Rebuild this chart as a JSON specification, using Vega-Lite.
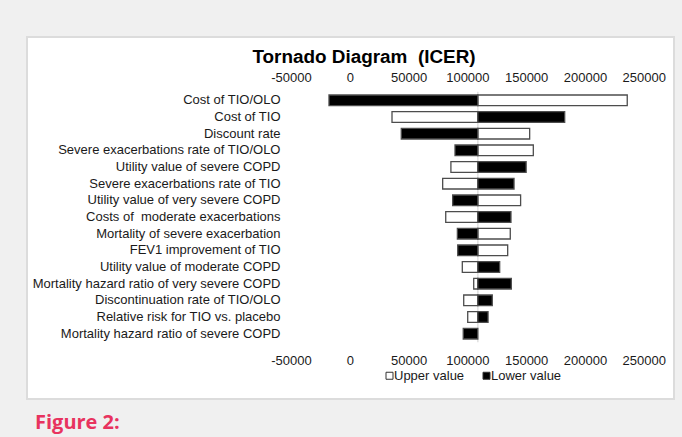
{
  "$schema": "https://vega.github.io/schema/vega-lite/v6.json",
  "width": 647,
  "height": 362,
  "autosize": "none",
  "padding": {"left": 27, "top": 37, "right": 8, "bottom": 38},
  "background": "#f0f0f0",
  "config": {
    "view": {"fill": "#ffffff", "stroke": "#dcdcdc", "strokeWidth": 2},
    "font": "Liberation Sans"
  },
  "title": {
    "text": "Figure 2:",
    "orient": "bottom",
    "anchor": "start",
    "frame": "group",
    "dx": 8,
    "offset": 14,
    "font": "Open Sans",
    "fontSize": 20,
    "fontWeight": "bold",
    "color": "#e8335f"
  },
  "data": {
    "values": [
      {"param": "Cost of TIO/OLO", "Upper value": 236000, "Lower value": -17700},
      {"param": "Cost of TIO", "Upper value": 35900, "Lower value": 182800},
      {"param": "Discount rate\u00a0", "Upper value": 153000, "Lower value": 43800},
      {"param": "Severe exacerbations rate of TIO/OLO", "Upper value": 156100, "Lower value": 89500},
      {"param": "Utility value of severe COPD", "Upper value": 86000, "Lower value": 150000},
      {"param": "Severe exacerbations rate of TIO", "Upper value": 79000, "Lower value": 139700},
      {"param": "Utility value of very severe COPD", "Upper value": 145300, "Lower value": 87500},
      {"param": "Costs of \u00a0moderate exacerbations", "Upper value": 81600, "Lower value": 137100},
      {"param": "Mortality of severe exacerbation", "Upper value": 136500, "Lower value": 91500},
      {"param": "FEV1 improvement of TIO", "Upper value": 134300, "Lower value": 91800},
      {"param": "Utility value of moderate COPD", "Upper value": 95700, "Lower value": 127500},
      {"param": "Mortality hazard ratio of very severe COPD", "Upper value": 105400, "Lower value": 137400},
      {"param": "Discontinuation rate of TIO/OLO", "Upper value": 96900, "Lower value": 121200},
      {"param": "Relative risk for TIO vs. placebo", "Upper value": 100300, "Lower value": 117600},
      {"param": "Mortality hazard ratio of severe COPD", "Upper value": null, "Lower value": 96500}
    ]
  },
  "layer": [
    {
      "mark": {"type": "tick", "color": "#d4d4d4", "thickness": 1.5, "size": 17},
      "encoding": {
        "y": {
          "field": "param", "type": "nominal", "sort": null,
          "scale": {"range": [55, 305], "paddingInner": 0.358, "paddingOuter": 0.179, "align": 0.5},
          "axis": {
            "orient": "left", "offset": -253, "domain": false, "ticks": false, "tickSize": 0,
            "labelPadding": 0, "labelFontSize": 13, "labelFont": "Liberation Sans", "labelColor": "#1a1a1a",
            "labelLimit": 400, "title": null, "grid": false
          }
        },
        "x": {
          "datum": 108900, "type": "quantitative",
          "scale": {"domain": [-274583, 275774], "nice": false, "zero": false},
          "axis": {
            "orient": "bottom", "offset": -45, "values": [-50000, 0, 50000, 100000, 150000, 200000, 250000],
            "labelExpr": "'' + datum.value", "domain": false, "ticks": false, "tickSize": 0, "grid": false,
            "labelPadding": 0, "labelFontSize": 13, "labelFont": "Liberation Sans", "labelColor": "#1a1a1a",
            "title": null, "labelFlush": false, "labelOverlap": false
          }
        }
      }
    },
    {
      "transform": [
        {"fold": ["Upper value", "Lower value"], "as": ["key", "value"]},
        {"filter": "isValid(datum.value)"}
      ],
      "mark": {"type": "bar", "stroke": "#4d4d4d", "strokeWidth": 1.3},
      "encoding": {
        "y": {
          "field": "param", "type": "nominal", "sort": null,
          "scale": {"range": [55, 305], "paddingInner": 0.358, "paddingOuter": 0.179, "align": 0.5},
          "axis": {
            "orient": "left", "offset": -253, "domain": false, "ticks": false, "tickSize": 0,
            "labelPadding": 0, "labelFontSize": 13, "labelFont": "Liberation Sans", "labelColor": "#1a1a1a",
            "labelLimit": 400, "title": null, "grid": false
          }
        },
        "x": {
          "field": "value", "type": "quantitative",
          "scale": {"domain": [-274583, 275774], "nice": false, "zero": false},
          "axis": {
            "orient": "top", "offset": -47, "values": [-50000, 0, 50000, 100000, 150000, 200000, 250000],
            "labelExpr": "'' + datum.value", "domain": false, "ticks": false, "tickSize": 0, "grid": false,
            "labelPadding": 0, "labelFontSize": 13, "labelFont": "Liberation Sans", "labelColor": "#1a1a1a",
            "labelFlush": false, "labelOverlap": false,
            "title": "Tornado Diagram \u00a0(ICER)", "titleFontSize": 18.9, "titleFont": "Liberation Sans",
            "titleFontWeight": "bold", "titleColor": "#000000", "titlePadding": 5, "titleX": 336.5
          }
        },
        "x2": {"datum": 108900},
        "fill": {
          "field": "key", "type": "nominal",
          "scale": {"domain": ["Upper value", "Lower value"], "range": ["#ffffff", "#000000"]},
          "legend": {
            "orient": "none", "legendX": 356, "legendY": 332, "direction": "horizontal", "title": null,
            "symbolType": "square", "symbolSize": 49, "symbolStrokeColor": "#333333", "symbolStrokeWidth": 1,
            "labelFontSize": 13, "labelFont": "Liberation Sans", "labelColor": "#1a1a1a",
            "labelOffset": -2, "columnPadding": 15
          }
        }
      }
    }
  ]
}
